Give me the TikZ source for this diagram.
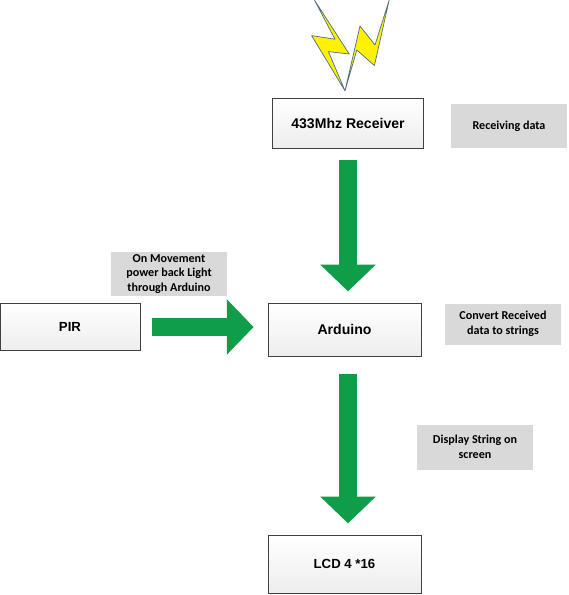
\documentclass[tikz,border=0pt]{standalone}
\usepackage{fontspec}
\setmainfont{Liberation Sans}
\newfontfamily\notefont{Carlito}
\usetikzlibrary{arrows.meta,positioning,calc}
\definecolor{arrgreen}{HTML}{0F9D4A}
\definecolor{notegray}{HTML}{D9D9D9}
\definecolor{edgegray}{HTML}{404040}
\definecolor{boltyellow}{HTML}{FFF200}
\definecolor{boltedge}{HTML}{4F6F85}

\begin{document}
\begin{tikzpicture}[
    blk/.style={draw=edgegray, line width=0.6pt, top color=white, bottom color=black!7, inner sep=0pt, minimum width=3.8cm, align=center, font=\fontsize{9.4}{11}\selectfont\bfseries},
    blkwide/.style={blk, font=\fontsize{10}{11}\selectfont\bfseries},
    note/.style={fill=notegray, inner sep=0pt, minimum width=2.9cm, align=center, font=\notefont\fontsize{8.6}{10.3}\selectfont\bfseries},
    arr/.style={-{Triangle[length=0.67cm, width=1.35cm]}, arrgreen, line width=0.47cm, shorten <=0.28cm, shorten >=0.28cm},
    bolt/.style={fill=boltyellow, draw=boltedge, line width=0.5pt, line join=round}
  ]
  \useasboundingbox (0,0) rectangle (14.2,-14.875);
  \fill[white] (0,0) rectangle (14.2,-14.875);

  \draw[bolt] (7.86,0) -- (8.375,-0.98) -- (7.79,-0.89) -- (8.625,-2.27) -- (8.21,-1.29) -- (8.73,-1.35) -- cycle;
  \draw[bolt] (9.73,0) -- (9.375,-1.125) -- (9.0,-0.65) -- (8.625,-2.27) -- (8.92,-1.25) -- (9.36,-1.64) -- cycle;

  \node[blkwide, minimum width=3.775cm, minimum height=1.25cm] (rx) at (8.7,-3.075) {433Mhz Receiver};
  \node[blkwide, minimum width=3.825cm, minimum height=1.325cm] (ard) at (8.6125,-8.2375) {Arduino};
  \node[blk, minimum width=3.825cm, minimum height=1.45cm] (lcd) at (8.6125,-14.1) {LCD 4 *16};
  \node[blk, minimum width=3.5cm, minimum height=1.175cm] (pir) at (1.75,-8.175) {PIR};

  \node[note, minimum height=1.1cm] (n1) at (12.725,-3.15) {Receiving data};
  \node[note, minimum height=1.025cm] (n2) at (12.575,-8.1) {Convert Received\\data to strings};
  \node[note, minimum height=1.125cm] (n3) at (11.875,-11.175) {Display String on\\screen};
  \node[note, minimum height=1.1cm] (n4) at (4.225,-6.85) {On Movement\\power back Light\\through Arduino};

  \draw[arr] (rx.south) -- (rx.south |- ard.north);
  \draw[arr, shorten <=0.45cm] (rx.south |- ard.south) -- (rx.south |- lcd.north);
  \draw[arr, shorten >=0.35cm] (pir.east) -- (pir.east -| ard.west);
\end{tikzpicture}
\end{document}
